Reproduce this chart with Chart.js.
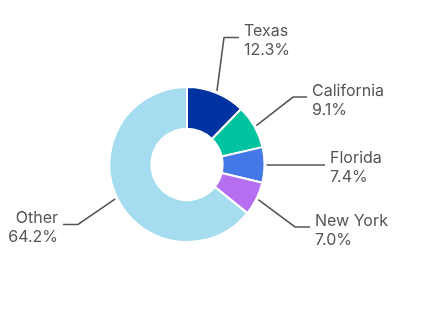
<!DOCTYPE html>
<html>
<head>
<meta charset="utf-8">
<script src="https://cdn.jsdelivr.net/npm/chart.js@4.4.1/dist/chart.umd.min.js"></script>
<style>
    html, body { margin: 0; padding: 0; background: #ffffff; }
    #wrap { width: 422px; height: 326px; position: relative; }
</style>
</head>
<body>
<div id="wrap"><canvas id="grafico"></canvas></div>
<script>
// #region Dados

var estados = ["Texas", "California", "Florida", "New York", "Other"];
var percentuais = [12.3, 9.1, 7.4, 7.0, 64.2];
var rotulos = ["12.3%", "9.1%", "7.4%", "7.0%", "64.2%"];
var cores = ["#0033a1", "#00c4a0", "#4378e6", "#b66ff0", "#a6dcf0"];

// #endregion Dados

// #region Layout dos rotulos (cotovelo relativo ao centro, comprimento da linha horizontal)

var cotovelos = [
    { dx: 37, dy: -127, len: 15, side: 1 },
    { dx: 106, dy: -67.5, len: 14, side: 1 },
    { dx: 80, dy: 0, len: 58, side: 1 },
    { dx: 108, dy: 62.5, len: 15, side: 1 },
    { dx: -109, dy: 60, len: 15, side: -1 }
];

// #endregion

var corTexto = "#555555";
var fonteTexto = "16px Inter, sans-serif";

var pluginRotulos = {
    id: "rotulosExternos",
    afterDatasetsDraw: function (chart) {
        var ctx = chart.ctx;
        var arcs = chart.getDatasetMeta(0).data;
        ctx.save();
        ctx.strokeStyle = corTexto;
        ctx.lineWidth = 1.6;
        ctx.fillStyle = corTexto;
        ctx.font = fonteTexto;
        ctx.textBaseline = "alphabetic";

        arcs.forEach(function (arc, i) {
            var p = arc.getProps(["x", "y", "startAngle", "endAngle", "outerRadius"], true);
            var meio = (p.startAngle + p.endAngle) / 2;
            var r = p.outerRadius + 2;
            var x0 = p.x + Math.cos(meio) * r;
            var y0 = p.y + Math.sin(meio) * r;
            var c = cotovelos[i];
            var xe = p.x + c.dx;
            var ye = p.y + c.dy;
            if (i === 2) { ye = y0; }
            var xf = xe + c.side * c.len;

            ctx.beginPath();
            ctx.moveTo(x0, y0);
            ctx.lineTo(xe, ye);
            ctx.lineTo(xf, ye);
            ctx.stroke();

            ctx.textAlign = c.side > 0 ? "left" : "right";
            var xt = xf + c.side * 5;
            ctx.fillText(estados[i], xt, ye - 1.5);
            ctx.fillText(rotulos[i], xt, ye + 17.5);
        });
        ctx.restore();
    }
};

var _grafico = new Chart(document.getElementById("grafico"), {
    type: "doughnut",
    data: {
        labels: estados,
        datasets: [{
            data: percentuais,
            backgroundColor: cores,
            borderColor: "#ffffff",
            borderWidth: 2
        }]
    },
    options: {
        responsive: true,
        maintainAspectRatio: false,
        animation: false,
        cutout: "46%",
        layout: {
            padding: { left: 108.5, right: 156.5, top: 86, bottom: 83 }
        },
        plugins: {
            legend: { display: false },
            tooltip: { enabled: false }
        }
    },
    plugins: [pluginRotulos]
});
</script>
</body>
</html>
